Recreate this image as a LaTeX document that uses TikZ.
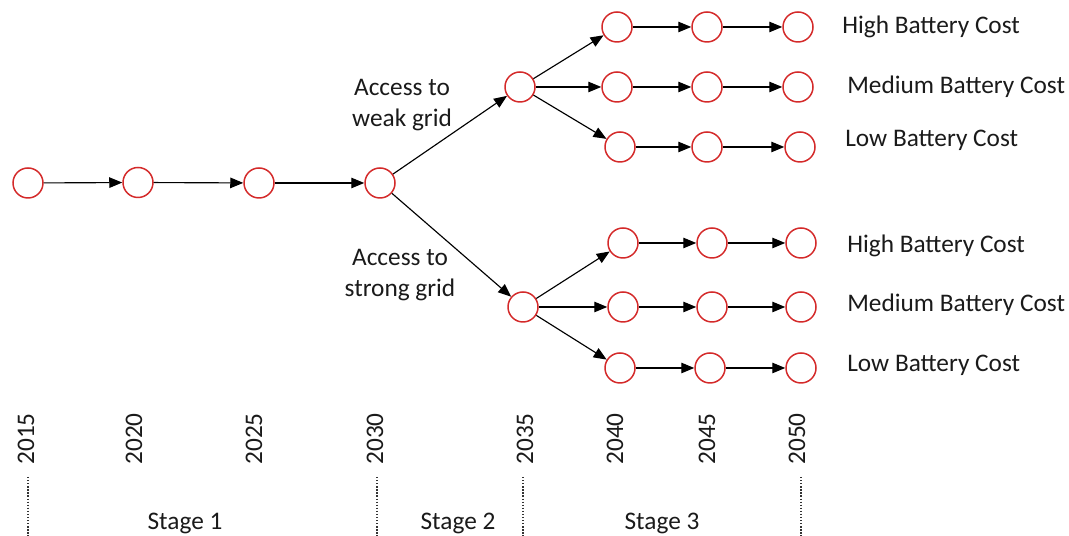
\documentclass[tikz,border=0pt]{standalone}
\usepackage{fontspec}
\setmainfont{Carlito}
\usepackage{tikz}
\usetikzlibrary{positioning,arrows.meta}
\definecolor{ink}{HTML}{1A1A1A}
\definecolor{nodered}{HTML}{D42A2A}
\definecolor{guide}{HTML}{333333}

\begin{document}
\begin{tikzpicture}[
  font=\fontsize{14.4}{17.5}\selectfont,
  text=ink,
  yr/.style={circle,draw=nodered,line width=0.85pt,fill=white,minimum size=6mm,inner sep=0pt},
  lbl/.style={anchor=west,inner sep=0pt},
  year/.style={rotate=90,inner sep=0pt},
  cut/.style={draw=guide,densely dotted,line width=0.75pt},
  edge/.style={draw=black,line width=0.65pt,-{Triangle[length=2.6mm,width=2.1mm]}}]

\useasboundingbox (0,0) rectangle (21.38,10.72);

\node[yr] (n15) at (0.56,7.06) {};
\node[yr] (n20) at (2.76,7.07) {};
\node[yr] (n25) at (5.18,7.06) {};
\node[yr] (n30) at (7.60,7.06) {};

\node[yr] (w35) at (10.40,8.98) {};
\node[yr] (wh40) at (12.34,10.18) {}; \node[yr] (wh45) at (14.14,10.18) {}; \node[yr] (wh50) at (15.96,10.18) {};
\node[yr] (wm40) at (12.34,8.98) {};  \node[yr] (wm45) at (14.14,8.98) {};  \node[yr] (wm50) at (15.96,8.98) {};
\node[yr] (wl40) at (12.40,7.78) {};  \node[yr] (wl45) at (14.14,7.78) {};  \node[yr] (wl50) at (16.00,7.78) {};

\node[yr] (s35) at (10.46,4.58) {};
\node[yr] (sh40) at (12.46,5.86) {}; \node[yr] (sh45) at (14.24,5.86) {}; \node[yr] (sh50) at (16.02,5.86) {};
\node[yr] (sm40) at (12.46,4.58) {}; \node[yr] (sm45) at (14.24,4.58) {}; \node[yr] (sm50) at (16.02,4.58) {};
\node[yr] (sl40) at (12.40,3.36) {}; \node[yr] (sl45) at (14.20,3.36) {}; \node[yr] (sl50) at (16.02,3.36) {};

\draw[edge] (n15)--(n20); \draw[edge] (n20)--(n25); \draw[edge] (n25)--(n30);
\draw[edge] (n30)--(w35); \draw[edge] (n30)--(s35);
\draw[edge] (w35)--(wh40); \draw[edge] (w35)--(wm40); \draw[edge] (w35)--(wl40);
\draw[edge] (wh40)--(wh45); \draw[edge] (wh45)--(wh50);
\draw[edge] (wm40)--(wm45); \draw[edge] (wm45)--(wm50);
\draw[edge] (wl40)--(wl45); \draw[edge] (wl45)--(wl50);
\draw[edge] (s35)--(sh40); \draw[edge] (s35)--(sm40); \draw[edge] (s35)--(sl40);
\draw[edge] (sh40)--(sh45); \draw[edge] (sh45)--(sh50);
\draw[edge] (sm40)--(sm45); \draw[edge] (sm45)--(sm50);
\draw[edge] (sl40)--(sl45); \draw[edge] (sl45)--(sl50);

\node[align=center] (weak) at (8.04,8.62) {Access to\\weak grid};
\node[align=center] (strong) at (8.00,5.22) {Access to\\strong grid};

\node[lbl] (whl) at (16.84,10.18) {High Battery Cost};
\node[lbl] (wml) at (16.94,8.98) {Medium Battery Cost};
\node[lbl] (wll) at (16.90,7.92) {Low Battery Cost};
\node[lbl] (shl) at (16.94,5.80) {High Battery Cost};
\node[lbl] (sml) at (16.94,4.62) {Medium Battery Cost};
\node[lbl] (sll) at (16.94,3.42) {Low Battery Cost};

% time axis
\node[year] (y15) at (0.52,1.94) {2015};
\node[year] (y20) at (2.68,1.94) {2020};
\node[year] (y25) at (5.08,1.94) {2025};
\node[year] (y30) at (7.50,1.94) {2030};
\node[year] (y35) at (10.50,1.94) {2035};
\node[year] (y40) at (12.30,1.94) {2040};
\node[year] (y45) at (14.14,1.94) {2045};
\node[year] (y50) at (15.94,1.94) {2050};

\draw[cut] (0.56,1.18)--(0.56,0);
\draw[cut] (7.54,1.18)--(7.54,0);
\draw[cut] (10.46,1.18)--(10.46,0);
\draw[cut] (16.02,1.18)--(16.02,0);

\node (st1) at (3.70,0.26) {Stage 1};
\node (st2) at (9.16,0.26) {Stage 2};
\node (st3) at (13.24,0.26) {Stage 3};
\end{tikzpicture}
\end{document}
